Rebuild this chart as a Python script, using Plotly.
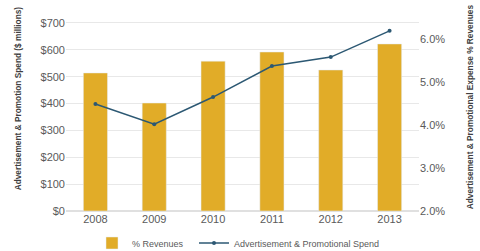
import plotly.graph_objects as go

years = ["2008", "2009", "2010", "2011", "2012", "2013"]
spend_millions = [514, 402, 558, 592, 525, 622]
pct_revenues = [4.49, 4.02, 4.65, 5.37, 5.58, 6.19]

bar_name = "% Revenues"
line_name = "Advertisement & Promotional Spend"
left_title = "Advertisement & Promotion Spend ($ millions)"
right_title = "Advertisement & Promotional Expense % Revenues"

gold = "#E1AC28"
navy = "#2C5873"
tick_color = "#5A5A5A"
font_family = "Liberation Sans, Arial, sans-serif"

fig = go.Figure()
fig.add_trace(go.Bar(x=years, y=spend_millions, name=bar_name, marker_color=gold,
                     yaxis="y", legend="legend"))
fig.add_trace(go.Scatter(x=years, y=pct_revenues, name=line_name, yaxis="y2",
                         mode="lines+markers", line=dict(color=navy, width=1.5),
                         marker=dict(size=4, color=navy), legend="legend2"))

leg_common = dict(orientation="h", xanchor="left", xref="container",
                  y=8 / 251, yanchor="middle", yref="container",
                  font=dict(size=9, color=tick_color), itemwidth=30,
                  bgcolor="rgba(0,0,0,0)")

fig.update_layout(
    width=480, height=251,
    margin=dict(l=66, r=61, t=0, b=40, autoexpand=False),
    paper_bgcolor="white", plot_bgcolor="white",
    font=dict(family=font_family, size=11, color=tick_color),
    bargap=0.59,
    showlegend=True,
    legend=dict(x=92 / 480, **leg_common),
    legend2=dict(x=194 / 480, **leg_common),
    xaxis=dict(showgrid=False, showline=False, ticks="", tickfont=dict(size=11, color=tick_color)),
    yaxis=dict(range=[0, 785.6], dtick=100, tickprefix="$", showgrid=True,
               gridcolor="#E8E8E8", gridwidth=1, zeroline=True, zerolinecolor="#E0E0E0",
               ticks="", tickfont=dict(size=11, color=tick_color)),
    yaxis2=dict(range=[2, 6.907], dtick=1, tickformat=".1f", ticksuffix="%",
                overlaying="y", side="right", showgrid=False, zeroline=False,
                ticks="", tickfont=dict(size=11, color=tick_color)),
)

fig.add_annotation(text="<b>" + left_title + "</b>", xref="paper", yref="paper",
                   x=-0.135, xanchor="center", y=(211 - 98) / 211, yanchor="middle",
                   textangle=-90, showarrow=False,
                   font=dict(size=8.3, color="#404040"))
fig.add_annotation(text="<b>" + right_title + "</b>", xref="paper", yref="paper",
                   x=1.145, xanchor="center", y=(211 - 107) / 211, yanchor="middle",
                   textangle=-90, showarrow=False,
                   font=dict(size=8.3, color="#404040"))

fig.write_html("out.html")
